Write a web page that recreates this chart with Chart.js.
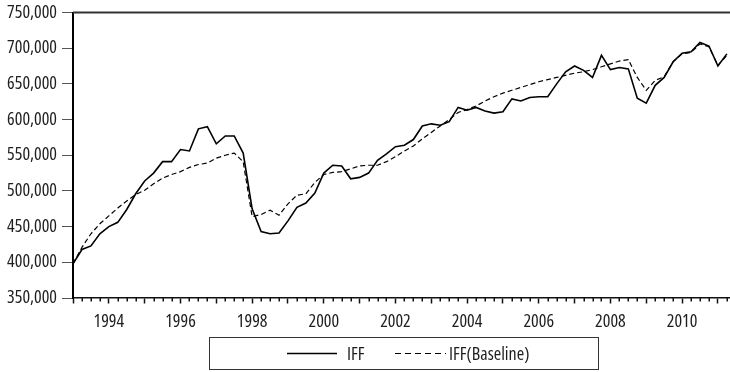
<!DOCTYPE html>
<html>
<head>
<meta charset="utf-8">
<script src="https://cdn.jsdelivr.net/npm/chart.js@4.4.1/dist/chart.umd.min.js"></script>
<style>
  html, body { margin: 0; padding: 0; background: #fff; }
  #wrap { width: 730px; height: 372px; position: relative; }
</style>
</head>
<body>
<div id="wrap"><canvas id="c" width="730" height="372"></canvas></div>
<script>
// Quarterly series, 1993Q1 .. 2011Q2
const START_YEAR = 1993;
const seriesNames = ['IFF', 'IFF(Baseline)'];
const yearLabels = ['1994', '1996', '1998', '2000', '2002', '2004', '2006', '2008', '2010'];
const yTicks = [350000, 400000, 450000, 500000, 550000, 600000, 650000, 700000, 750000];

const iff = [
  398000, 418000, 423000, 440000,
  450000, 456000, 474000, 496000,
  514000, 525000, 541000, 541000,
  558000, 556000, 587000, 590000,
  566000, 577000, 577000, 553000,
  475000, 443000, 440000, 441000,
  458000, 477000, 483000, 497000,
  525000, 536000, 535000, 517000,
  519000, 525000, 543000, 552000,
  562000, 564000, 572000, 591000,
  594000, 592000, 597000, 617000,
  613000, 617000, 612000, 609000,
  611000, 629000, 626000, 631000,
  632000, 632000, 650000, 667000,
  675000, 669000, 659000, 690000,
  670000, 673000, 671000, 630000,
  623000, 648000, 659000, 681000,
  693000, 695000, 708000, 703000,
  675000, 692000
];

const iffBaseline = [
  398000, 421000, 440000, 454000,
  465000, 476000, 486000, 495000,
  501000, 510000, 518000, 523000,
  527000, 533000, 537000, 539000,
  546000, 550000, 553000, 541000,
  464000, 467000, 473000, 466000,
  482000, 494000, 496000, 512000,
  523000, 526000, 527000, 531000,
  535000, 536000, 536000, 541000,
  548000, 556000, 563000, 573000,
  582000, 591000, 600000, 610000,
  614000, 619000, 626000, 632000,
  637000, 641000, 645000, 649000,
  653000, 656000, 659000, 662000,
  665000, 667000, 670000, 674000,
  678000, 682000, 684000, 659000,
  641000, 655000, 660000, 681000,
  692000, 694000, 706000, 702000,
  676000, 690000
];

const quarters = iff.map((_, i) => (START_YEAR + Math.floor(i / 4)) + 'Q' + (i % 4 + 1));

// Narrow face: Open Sans at condensed width (the keyword travels in the weight slot of the font string)
const FONT = { family: "'Open Sans', 'DejaVu Sans Condensed', sans-serif", size: 18, weight: 'condensed' };
const FONT_STRING = 'condensed ' + FONT.size + 'px ' + FONT.family;
const TEXT = '#1e1e1e';

// Frame line on top, quarterly minor ticks and the boxed legend below the axis
const decorations = {
  id: 'decorations',
  afterDraw(chart) {
    const { ctx, chartArea: a, scales: { x } } = chart;
    ctx.save();
    // top frame
    ctx.strokeStyle = '#333';
    ctx.lineWidth = 2;
    ctx.beginPath();
    ctx.moveTo(a.left, a.top);
    ctx.lineTo(a.right, a.top);
    ctx.stroke();
    // minor quarter ticks
    ctx.strokeStyle = '#111';
    ctx.lineWidth = 1.5;
    quarters.forEach((q, i) => {
      if (i % 4 === 0) return;
      const px = Math.round(x.getPixelForValue(i)) + 0.25;
      ctx.beginPath();
      ctx.moveTo(px, a.bottom);
      ctx.lineTo(px, a.bottom + 3.5);
      ctx.stroke();
    });
    // legend
    ctx.strokeStyle = '#333';
    ctx.lineWidth = 1;
    ctx.strokeRect(209.5, 337.5, 389, 32);
    const ly = 353.5;
    ctx.strokeStyle = '#000';
    ctx.lineWidth = 1.3;
    ctx.setLineDash([]);
    ctx.beginPath(); ctx.moveTo(287, ly); ctx.lineTo(337, ly); ctx.stroke();
    ctx.setLineDash([6, 4]);
    ctx.lineWidth = 1.2;
    ctx.beginPath(); ctx.moveTo(395, ly); ctx.lineTo(446, ly); ctx.stroke();
    ctx.setLineDash([]);
    ctx.fillStyle = TEXT;
    ctx.font = FONT_STRING;
    ctx.textBaseline = 'middle';
    ctx.textAlign = 'left';
    ctx.fillText(seriesNames[0], 347, ly + 1.5);
    ctx.fillText(seriesNames[1], 449, ly + 1.5);
    ctx.restore();
  }
};

new Chart(document.getElementById('c'), {
  type: 'line',
  data: {
    datasets: [
      {
        label: seriesNames[0],
        data: iff.map((v, i) => ({ x: i, y: v })),
        borderColor: '#000',
        borderWidth: 1.6,
        pointRadius: 0,
        tension: 0,
        fill: false
      },
      {
        label: seriesNames[1],
        data: iffBaseline.map((v, i) => ({ x: i, y: v })),
        borderColor: '#000',
        borderWidth: 1.2,
        borderDash: [5, 3],
        pointRadius: 0,
        tension: 0,
        fill: false
      }
    ]
  },
  options: {
    responsive: false,
    devicePixelRatio: 1,
    animation: false,
    layout: { padding: { top: 12.5, right: 0, left: 0, bottom: 0 } },
    plugins: { legend: { display: false }, tooltip: { enabled: false } },
    scales: {
      x: {
        type: 'linear',
        min: 0,
        max: 73.35,
        afterBuildTicks: s => { s.ticks = quarters.map((q, i) => ({ value: i })); },
        afterFit: s => { s.height = 74; s.paddingLeft = 0; s.paddingRight = 0; },
        ticks: {
          autoSkip: false,
          maxRotation: 0,
          padding: 8,
          font: FONT,
          color: TEXT,
          callback: v => {
            const q = quarters[v];
            if (!q || !q.endsWith('Q1')) return '';
            const yr = q.slice(0, 4);
            return yearLabels.includes(yr) ? yr : '';
          }
        },
        grid: {
          drawOnChartArea: false,
          drawTicks: true,
          tickLength: 5.5,
          tickWidth: 1.5,
          tickColor: c => (c.tick && c.tick.value % 4 === 0) ? '#111' : 'rgba(0,0,0,0)'
        },
        border: { color: '#111', width: 1.5 }
      },
      y: {
        type: 'linear',
        min: 350000,
        max: 750000,
        afterBuildTicks: s => { s.ticks = yTicks.map(v => ({ value: v })); },
        afterFit: s => { s.width = 73; s.paddingTop = 0; s.paddingBottom = 0; },
        ticks: {
          padding: 5,
          font: FONT,
          color: TEXT,
          callback: v => Number(v).toLocaleString('en-US')
        },
        grid: {
          drawOnChartArea: false,
          drawTicks: true,
          tickLength: 11,
          tickWidth: 1,
          tickColor: '#555'
        },
        border: { color: '#000', width: 2 }
      }
    }
  },
  plugins: [decorations]
});
</script>
</body>
</html>
